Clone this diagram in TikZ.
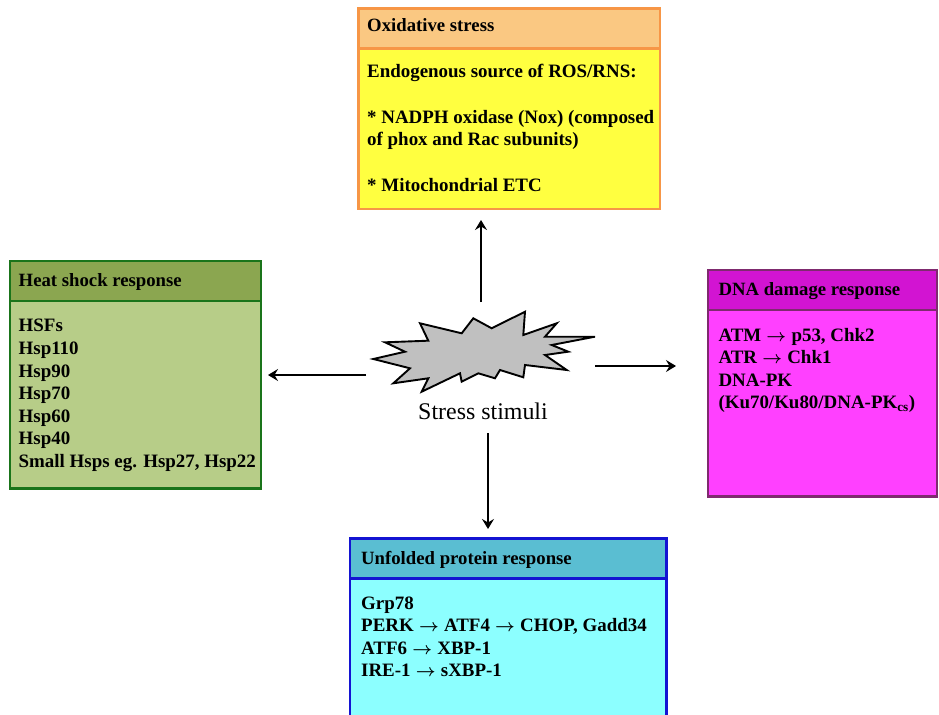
\documentclass[tikz,border=0pt]{standalone}
\usepackage{fontspec}
\setmainfont{Liberation Serif}
\usetikzlibrary{arrows.meta}
\definecolor{oxhead}{HTML}{FAC882}
\definecolor{oxbody}{HTML}{FFFF40}
\definecolor{oxline}{HTML}{F79646}
\definecolor{hshead}{HTML}{8BA650}
\definecolor{hsbody}{HTML}{B7CD88}
\definecolor{hsline}{HTML}{1A741A}
\definecolor{dnahead}{HTML}{D214D2}
\definecolor{dnabody}{HTML}{FF40FF}
\definecolor{dnaline}{HTML}{7F2A6F}
\definecolor{uprhead}{HTML}{5ABED2}
\definecolor{uprbody}{HTML}{8CFFFF}
\definecolor{uprline}{HTML}{1414D2}
\definecolor{stargray}{HTML}{C0C0C0}
\newcommand{\ar}{\kern0.5pt{\boldmath$\rightarrow$}\kern0.5pt}
\tikzset{
  txt/.style={anchor=base west, inner sep=0pt, font=\fontsize{19}{22.6}\selectfont\bfseries},
  hdr/.style={anchor=base west, inner sep=0pt, font=\fontsize{18.8}{22.6}\selectfont\bfseries},
  frame/.style={line width=2.5bp},
  arr/.style={line width=2.7bp, -{Stealth[length=10bp,width=12bp,inset=3.5bp]}},
}
\begin{document}
\begin{tikzpicture}[x=1bp,y=-1bp]
\useasboundingbox (0,0) rectangle (939,715);

% Oxidative stress box
\fill[oxbody] (358.3,48.3) rectangle (660,209);
\fill[oxhead] (358.3,8.3) rectangle (660,48.3);
\draw[frame,oxline] (358.3,8.3) rectangle (660,209);
\draw[frame,oxline] (358.3,48.3) -- (660,48.3);
\node[hdr] (oxh) at (367,31.7) {Oxidative stress};
\node[txt] (ox1) at (367,77.7) {Endogenous source of ROS/RNS:};
\node[txt] (ox2) at (367,123.3) {* NADPH oxidase (Nox) (composed};
\node[txt] (ox3) at (367,145.7) {of phox and Rac subunits)};
\node[txt] (ox4) at (367,191) {* Mitochondrial ETC};
\coordinate (oxb) at (481,220);

% Heat shock box
\fill[hsbody] (10,301) rectangle (261,488.3);
\fill[hshead] (10,261) rectangle (261,301);
\draw[frame,hsline] (10,261) rectangle (261,488.3);
\draw[frame,hsline] (10,301) -- (261,301);
\node[hdr] (hsh) at (18.5,286.7) {Heat shock response};
\node[txt] (hs1) at (18.5,331.7) {HSFs};
\node[txt] (hs2) at (18.5,354.3) {Hsp110};
\node[txt] (hs3) at (18.5,377) {Hsp90};
\node[txt] (hs4) at (18.5,399.6) {Hsp70};
\node[txt] (hs5) at (18.5,422.2) {Hsp60};
\node[txt] (hs6) at (18.5,444.8) {Hsp40};
\node[txt] (hs7) at (18.5,467.6) {Small Hsps eg. Hsp27, Hsp22};
\coordinate (hsb) at (268,375);

% DNA damage box
\fill[dnabody] (707.8,310) rectangle (937,496.7);
\fill[dnahead] (707.8,270) rectangle (937,310);
\draw[frame,dnaline] (707.8,270) rectangle (937,496.7);
\draw[frame,dnaline] (707.8,310) -- (937,310);
\node[hdr] (dnh) at (718.3,295) {DNA damage response};
\node[txt] (dn1) at (718.3,341) {ATM \ar{} p53, Chk2};
\node[txt] (dn2) at (718.3,363.5) {ATR \ar{} Chk1};
\node[txt] (dn3) at (718.3,386) {DNA-PK};
\node[txt] (dn4) at (718.3,408.5) {(Ku70/Ku80/DNA-PK\textsubscript{cs})};
\coordinate (dnb) at (676,366);

% Unfolded protein response box
\fill[uprbody] (350,578.3) rectangle (666.7,720);
\fill[uprhead] (350,538.3) rectangle (666.7,578.3);
\draw[frame,uprline] (350,720) -- (350,538.3) -- (666.7,538.3) -- (666.7,720);
\draw[frame,uprline] (350,578.3) -- (666.7,578.3);
\node[hdr] (uph) at (361,564.3) {Unfolded protein response};
\node[txt] (up1) at (361,609) {Grp78};
\node[txt] (up2) at (361,631.6) {PERK \ar{} ATF4 \ar{} CHOP, Gadd34};
\node[txt] (up3) at (361,654.2) {ATF6 \ar{} XBP-1};
\node[txt] (up4) at (361,676.8) {IRE-1 \ar{} sXBP-1};
\coordinate (upb) at (488,529);

% Stress stimuli star
\draw[line width=1.9bp, fill=stargray, line join=miter]
 (385,342.3) -- (428.3,340.7) -- (420,323.3) -- (461.7,333.3) -- (473.3,318.3)
 -- (491.7,328.3) -- (525,311.7) -- (523.3,335) -- (556.7,323.3) -- (545,336.7)
 -- (595,336.7) -- (551.7,345) -- (568.3,351.7) -- (545,355) -- (566.7,370)
 -- (525,365) -- (523.3,377.3) -- (500,370) -- (495,378.3) -- (478.3,373.3)
 -- (461.7,381.7) -- (460,373.3) -- (421.7,391.7) -- (428.3,378.3) -- (393.3,383.3)
 -- (410,368.3) -- (373.3,359) -- (405,351.7) -- cycle;
\node[inner sep=0pt, font=\fontsize{24}{28}\selectfont] (stim) at (483,411) {Stress stimuli};

\coordinate (sUp) at (481,302);
\coordinate (sLeft) at (366,375);
\coordinate (sRight) at (595,366);
\coordinate (sDown) at (488,433);

\draw[arr] (sUp) -- (oxb);
\draw[arr] (sLeft) -- (hsb);
\draw[arr] (sRight) -- (dnb);
\draw[arr] (sDown) -- (upb);
\end{tikzpicture}
\end{document}
